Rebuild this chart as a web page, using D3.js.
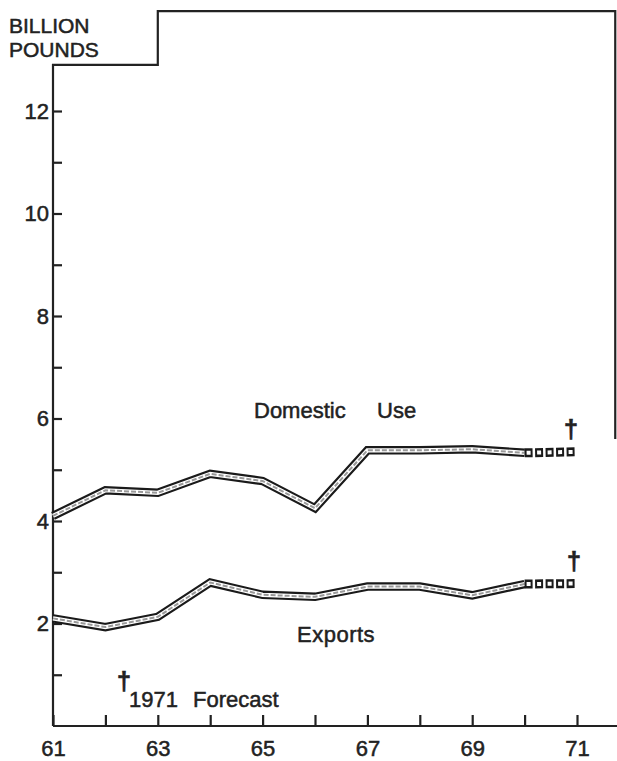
<!DOCTYPE html>
<html>
<head>
<meta charset="utf-8">
<script src="https://cdn.jsdelivr.net/npm/d3@7"></script>
<style>
  body { margin: 0; background: #fff; }
  text { font-family: "Liberation Sans", Arial, sans-serif; fill: #222; stroke: #222; stroke-width: 0.5px; }
</style>
</head>
<body>
<div id="chart"></div>
<script>
const years = [61, 62, 63, 64, 65, 66, 67, 68, 69, 70];
const domestic = [4.1, 4.6, 4.55, 4.92, 4.78, 4.25, 5.38, 5.38, 5.4, 5.33];
const exportsUse = [2.1, 1.93, 2.13, 2.8, 2.56, 2.52, 2.72, 2.72, 2.55, 2.77];
const forecastYears = [70, 71];
const domesticForecast = [5.33, 5.35];
const exportsForecast = [2.77, 2.78];
const yTicks = [1, 2, 3, 4, 5, 6, 7, 8, 9, 10, 11, 12];
const xTicks = [61, 62, 63, 64, 65, 66, 67, 68, 69, 70, 71];

const width = 617, height = 761;

const svg = d3.select("#chart")
  .append("svg")
  .attr("width", width)
  .attr("height", height)

const x = d3.scaleLinear().domain([61, 71]).range([53, 577]);
const y = d3.scaleLinear().domain([0, 12]).range([726, 111]);

const line = d3.line()
  .x(d => x(d[0]))
  .y(d => y(d[1]));

// frame: y axis, step around the unit label, top and right edge
const frame = [[61, 0], [61, 12.9], [63, 12.9], [63, 13.95], [71.73, 13.95], [71.73, 5.6]];
svg.append("path")
  .attr("d", line(frame))
  .attr("fill", "none")
  .attr("stroke", "#222")
  .attr("stroke-width", 2.2);

// x axis line runs to the page edge
svg.append("path")
  .attr("d", line([[61, 0], [71.8, 0]]))
  .attr("fill", "none")
  .attr("stroke", "#222")
  .attr("stroke-width", 2.2);

const yAxis = d3.axisLeft(y)
  .tickValues(yTicks)
  .tickSize(-9)
  .tickPadding(4)
  .tickFormat(d => d % 2 === 0 ? d : "");
const gy = svg.append("g")
  .attr("transform", "translate(" + x(61) + ",0)")
  .call(yAxis);
gy.select(".domain").remove();

const xAxis = d3.axisBottom(x)
  .tickValues(xTicks)
  .tickSize(-11)
  .tickPadding(10)
  .tickFormat(d => d % 2 === 1 ? d : "");
const gx = svg.append("g")
  .attr("transform", "translate(0," + y(0) + ")")
  .call(xAxis);
gx.select(".domain").remove();

svg.selectAll(".tick line").attr("stroke", "#222").attr("stroke-width", 2.2);
svg.selectAll(".tick text")
  .attr("font-size", 22)
  .attr("fill", "#222")
  .style("font-family", "'Liberation Sans', Arial, sans-serif");
gx.selectAll(".tick text").attr("dy", "0.9em");

// unit label
svg.append("text").attr("x", 9).attr("y", 33).attr("font-size", 21).text("BILLION");
svg.append("text").attr("x", 9).attr("y", 57).attr("font-size", 21).text("POUNDS");

// double-line ribbons
function ribbon(vals) {
  const pts = years.map((yr, i) => [yr, vals[i]]);
  svg.append("path").attr("d", line(pts))
    .attr("fill", "none").attr("stroke", "#1a1a1a").attr("stroke-width", 8.5)
    .attr("stroke-linejoin", "miter");
  svg.append("path").attr("d", line(pts))
    .attr("fill", "none").attr("stroke", "#fff").attr("stroke-width", 4.2)
    .attr("stroke-linejoin", "miter");
  svg.append("path").attr("d", line(pts))
    .attr("fill", "none").attr("stroke", "#999").attr("stroke-width", 2)
    .attr("stroke-dasharray", "5,2");
}
function forecast(vals) {
  const pts = forecastYears.map((yr, i) => [yr, vals[i]]);
  svg.append("path").attr("d", line(pts))
    .attr("fill", "none").attr("stroke", "#1a1a1a").attr("stroke-width", 9)
    .attr("stroke-dasharray", "8,2.5");
  svg.append("path").attr("d", line(pts))
    .attr("fill", "none").attr("stroke", "#fff").attr("stroke-width", 4)
    .attr("stroke-dasharray", "4,6.5").attr("stroke-dashoffset", -2);
}
ribbon(domestic);
forecast(domesticForecast);
ribbon(exportsUse);
forecast(exportsForecast);

// labels
svg.append("text").attr("x", 254).attr("y", 418).attr("font-size", 22).text("Domestic");
svg.append("text").attr("x", 377).attr("y", 418).attr("font-size", 22).text("Use");
svg.append("text").attr("x", 297).attr("y", 642).attr("font-size", 22)
  .attr("letter-spacing", 0.5).text("Exports");

function dagger(px, py) {
  svg.append("text").attr("x", px).attr("y", py)
    .attr("font-size", 26).attr("font-weight", "bold")
    .attr("text-anchor", "middle").text("\u2020");
}
dagger(x(71) - 6, y(5.35) - 14);
dagger(x(71) - 3, y(2.78) - 14);
dagger(124, 690);

svg.append("text").attr("x", 129).attr("y", 707).attr("font-size", 22).text("1971");
svg.append("text").attr("x", 193).attr("y", 707).attr("font-size", 22).text("Forecast");
</script>
</body>
</html>
